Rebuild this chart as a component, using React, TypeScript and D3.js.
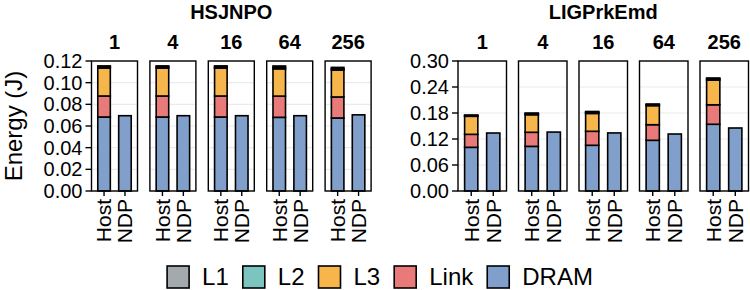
import React, { useRef, useEffect } from "react";
import * as d3 from "d3";

const configs = ["1", "4", "16", "64", "256"];
const systems = ["Host", "NDP"];
const components = ["L1", "L2", "L3", "Link", "DRAM"];
const componentColors = ["#a4a9ad", "#7cc4c0", "#f6b64b", "#e87a7a", "#819fcb"];

// HSJNPO
const hsjHostDRAM = [0.0683, 0.0683, 0.0683, 0.068, 0.0674];
const hsjHostLink = [0.0194, 0.0194, 0.0194, 0.0196, 0.0194];
const hsjHostL3 = [0.0258, 0.0258, 0.0258, 0.0252, 0.0249];
const hsjHostL2 = [0.001, 0.001, 0.001, 0.0013, 0.0012];
const hsjHostL1 = [0.001, 0.001, 0.001, 0.0013, 0.0012];
const hsjNdpDRAM = [0.0695, 0.0695, 0.0695, 0.0695, 0.0703];
const hsjTicks = [0, 0.02, 0.04, 0.06, 0.08, 0.1, 0.12];
const hsjMax = 0.12;

// LIGPrkEmd
const ligHostDRAM = [0.1008, 0.103, 0.1055, 0.117, 0.154];
const ligHostLink = [0.03, 0.0325, 0.0323, 0.036, 0.045];
const ligHostL3 = [0.0416, 0.0405, 0.0412, 0.044, 0.057];
const ligHostL2 = [0.0015, 0.002, 0.0023, 0.002, 0.0025];
const ligHostL1 = [0.0015, 0.002, 0.0022, 0.0018, 0.0023];
const ligNdpDRAM = [0.1338, 0.136, 0.134, 0.1315, 0.1454];
const ligTicks = [0, 0.06, 0.12, 0.18, 0.24, 0.3];
const ligMax = 0.3;

const FONT = "'Liberation Sans', Arial, Helvetica, sans-serif";

export default function App() {
  const ref = useRef<SVGSVGElement | null>(null);

  useEffect(() => {
    const svg = d3.select(ref.current);
    svg.selectAll("*").remove();

    const facets = [
      {
        name: "HSJNPO",
        host: { L1: hsjHostL1, L2: hsjHostL2, L3: hsjHostL3, Link: hsjHostLink, DRAM: hsjHostDRAM },
        ndp: hsjNdpDRAM,
        ticks: hsjTicks,
        max: hsjMax,
        fmt: d3.format(".2f"),
        x0: 91.5,
        step: 58.4,
        pw: 46,
      },
      {
        name: "LIGPrkEmd",
        host: { L1: ligHostL1, L2: ligHostL2, L3: ligHostL3, Link: ligHostLink, DRAM: ligHostDRAM },
        ndp: ligNdpDRAM,
        ticks: ligTicks,
        max: ligMax,
        fmt: d3.format(".2f"),
        x0: 458,
        step: 60.5,
        pw: 48.5,
      },
    ];

    const top = 61;
    const bottom = 191;
    const stackOrder = ["DRAM", "Link", "L3", "L2", "L1"];
    const color = d3.scaleOrdinal<string, string>().domain(components).range(componentColors);

    facets.forEach((f) => {
      const y = d3.scaleLinear().domain([0, f.max]).range([bottom, top]);
      const rows = configs.map((c, i) => {
        const hostRow: any = { sys: "Host" };
        const ndpRow: any = { sys: "NDP" };
        components.forEach((k) => {
          hostRow[k] = (f.host as any)[k][i];
          ndpRow[k] = k === "DRAM" ? f.ndp[i] : 0;
        });
        return [hostRow, ndpRow];
      });
      const stack = d3.stack<any>().keys(stackOrder);

      // facet title
      const gx0 = f.x0;
      const gx1 = f.x0 + (configs.length - 1) * f.step + f.pw;
      svg
        .append("text")
        .attr("x", (gx0 + gx1) / 2)
        .attr("y", 19)
        .attr("text-anchor", "middle")
        .attr("font-family", FONT)
        .attr("font-weight", "bold")
        .attr("font-size", 20)
        .text(f.name);

      configs.forEach((c, i) => {
        const px = f.x0 + i * f.step;
        const g = svg.append("g").attr("transform", `translate(${px},0)`);
        const x = d3.scalePoint<string>().domain(systems).range([0, f.pw]).padding(0.6);
        const bw = x.step() * 0.6;

        // strip label
        g.append("text")
          .attr("x", f.pw / 2)
          .attr("y", 49)
          .attr("text-anchor", "middle")
          .attr("font-family", FONT)
          .attr("font-weight", "bold")
          .attr("font-size", 20)
          .text(c);

        // grid
        g.selectAll("line.grid")
          .data(f.ticks)
          .enter()
          .append("line")
          .attr("x1", 0)
          .attr("x2", f.pw)
          .attr("y1", (d) => y(d))
          .attr("y2", (d) => y(d))
          .attr("stroke", "#ebebeb")
          .attr("stroke-width", 1.1);

        // bars
        const series = stack(rows[i]);
        series.forEach((s) => {
          s.forEach((seg: any) => {
            if (seg[1] - seg[0] <= 0) return;
            g.append("rect")
              .attr("x", (x(seg.data.sys) as number) - bw / 2)
              .attr("width", bw)
              .attr("y", y(seg[1]))
              .attr("height", y(seg[0]) - y(seg[1]))
              .attr("fill", color(s.key))
              .attr("stroke", "#000")
              .attr("stroke-width", 1.6);
          });
        });

        // border
        g.append("rect")
          .attr("x", 0)
          .attr("y", top)
          .attr("width", f.pw)
          .attr("height", bottom - top)
          .attr("fill", "none")
          .attr("stroke", "#000")
          .attr("stroke-width", 1.4);

        // x ticks and labels
        systems.forEach((sname) => {
          const cx = x(sname) as number;
          g.append("line")
            .attr("x1", cx)
            .attr("x2", cx)
            .attr("y1", bottom)
            .attr("y2", bottom + 5)
            .attr("stroke", "#000")
            .attr("stroke-width", 1.4);
          g.append("text")
            .attr("transform", `translate(${cx},${bottom + 8}) rotate(-90)`)
            .attr("text-anchor", "end")
            .attr("dy", "0.35em")
            .attr("font-family", FONT)
            .attr("font-size", 21)
            .text(sname);
        });

        // y axis on first panel
        if (i === 0) {
          f.ticks.forEach((t) => {
            g.append("line")
              .attr("x1", -6)
              .attr("x2", 0)
              .attr("y1", y(t))
              .attr("y2", y(t))
              .attr("stroke", "#000")
              .attr("stroke-width", 1.4);
            g.append("text")
              .attr("x", -9)
              .attr("y", y(t))
              .attr("dy", "0.35em")
              .attr("text-anchor", "end")
              .attr("font-family", FONT)
              .attr("font-size", 20)
              .text(f.fmt(t));
          });
        }
      });
    });

    // y axis title
    svg
      .append("text")
      .attr("transform", `translate(22,126) rotate(-90)`)
      .attr("text-anchor", "middle")
      .attr("font-family", FONT)
      .attr("font-size", 24)
      .text("Energy (J)");

    // legend
    const leg = svg.append("g");
    let cursor = 0;
    const keySize = 22;
    const gapIn = 13;
    const gapOut = 14;
    components.forEach((k) => {
      leg
        .append("rect")
        .attr("x", cursor)
        .attr("y", 266)
        .attr("width", keySize)
        .attr("height", keySize)
        .attr("fill", color(k))
        .attr("stroke", "#000")
        .attr("stroke-width", 1.6);
      const t = leg
        .append("text")
        .attr("x", cursor + keySize + gapIn)
        .attr("y", 277)
        .attr("dy", "0.35em")
        .attr("font-family", FONT)
        .attr("font-size", 24)
        .text(k);
      const w = (t.node() as SVGTextElement).getComputedTextLength();
      cursor += keySize + gapIn + w + gapOut;
    });
    const legW = cursor - gapOut;
    leg.attr("transform", `translate(${380 - legW / 2},0)`);
  }, []);

  return (
    <svg
      ref={ref}
      width={750}
      height={290}
      style={{ position: "absolute", left: 0, top: 0, background: "#fff" }}
    />
  );
}
